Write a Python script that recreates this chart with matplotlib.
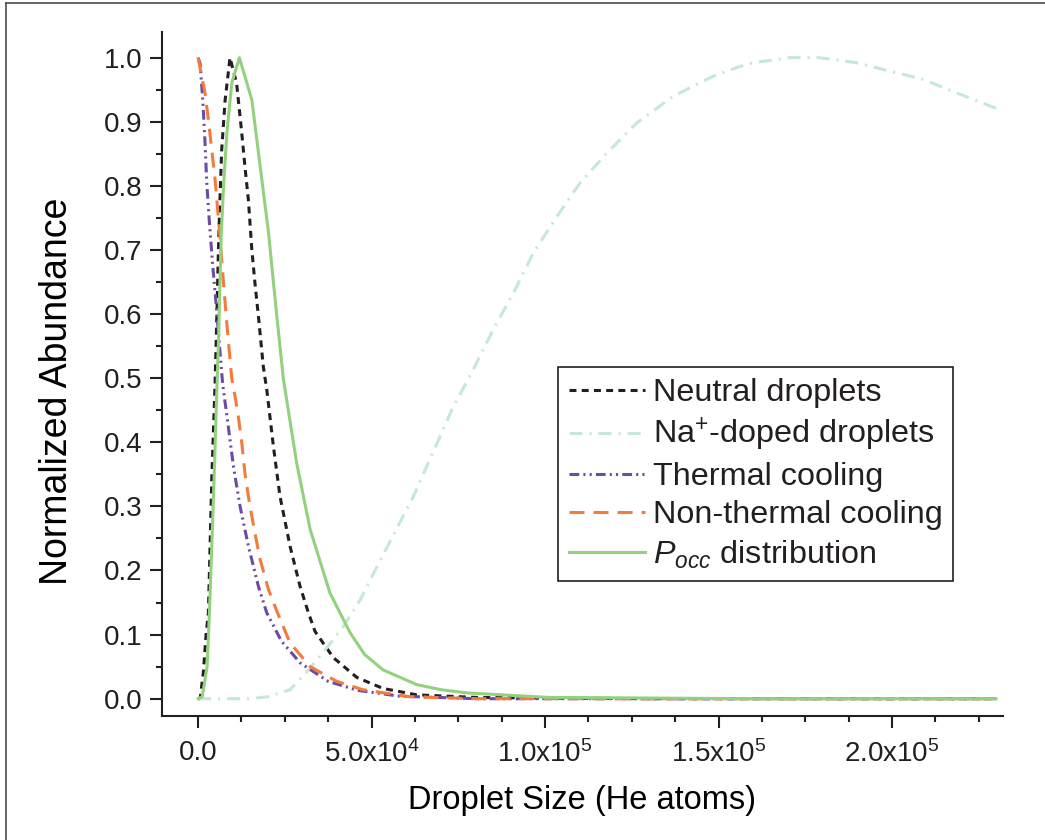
import matplotlib
matplotlib.use('Agg')
import matplotlib.pyplot as plt
from matplotlib.lines import Line2D
from matplotlib.ticker import MultipleLocator, FixedLocator, FixedFormatter

# values (droplet size in He atoms, normalized abundance)
neutral_x = [0, 600, 1500, 2300, 2970, 3940, 4900, 5400, 5860, 6300, 6800, 7800, 9200,
             11100, 12600, 13500, 14500, 15500, 16400, 17400, 18800, 19800, 21700, 23600,
             26500, 29400, 31800, 33700, 39000, 45800, 53300, 63000, 80000, 100000, 130000, 230000]
neutral_y = [0, 0.0, 0.04, 0.1, 0.134, 0.342, 0.492, 0.596, 0.70, 0.778, 0.856, 0.934, 1.0,
             0.96, 0.882, 0.83, 0.778, 0.70, 0.648, 0.596, 0.518, 0.482, 0.394, 0.316,
             0.238, 0.175, 0.134, 0.105, 0.064, 0.033, 0.016, 0.006, 0.002, 0.001, 0.0, 0.0]

na_x = [0, 15000, 20000, 26500, 31400, 36000, 41800, 46700, 51000, 62000, 69000, 73500, 79000,
        85100, 90900, 96600, 103400, 110000, 117800, 126400, 137000, 148500, 156000, 160000,
        170600, 179000, 189800, 199400, 209000, 218600, 230000]
na_y = [0, 0.0, 0.003, 0.014, 0.042, 0.072, 0.112, 0.154, 0.2, 0.315, 0.40, 0.455, 0.51,
        0.576, 0.633, 0.695, 0.752, 0.804, 0.851, 0.898, 0.94, 0.971, 0.986, 0.992,
        1.0, 1.0, 0.992, 0.979, 0.966, 0.945, 0.921]

thermal_x = [0, 600, 1350, 2000, 2500, 3270, 4200, 5200, 7100, 8700, 10200, 12100, 14500,
             17400, 19800, 24000, 29400, 37500, 46000, 58000, 80000, 230000]
thermal_y = [1.0, 0.99, 0.934, 0.867, 0.805, 0.742, 0.677, 0.615, 0.49, 0.425, 0.362, 0.30,
             0.238, 0.175, 0.134, 0.09, 0.056, 0.027, 0.013, 0.004, 0.0, 0.0]

nonthermal_x = [0, 2000, 2970, 3940, 4900, 5560, 6300, 7100, 8270, 9700, 10700, 11600, 12600,
                13500, 14800, 16400, 17900, 20300, 22900, 26500, 32300, 40000, 47500, 61000,
                80000, 230000]
nonthermal_y = [1.0, 0.945, 0.903, 0.856, 0.81, 0.768, 0.721, 0.664, 0.586, 0.50, 0.47, 0.44,
                0.399, 0.352, 0.305, 0.258, 0.217, 0.17, 0.134, 0.087, 0.05, 0.027, 0.014,
                0.003, 0.0, 0.0]

pocc_x = [0, 1200, 2600, 3270, 3940, 4600, 5380, 5900, 6300, 6700, 7400, 8300, 9700, 11900,
          15500, 17900, 20300, 22700, 24600, 28400, 32300, 38000, 43800, 48000, 53300, 63000,
          70000, 77500, 101000, 130000, 160000, 230000]
pocc_y = [0, 0.003, 0.05, 0.134, 0.238, 0.342, 0.477, 0.56, 0.648, 0.727, 0.805, 0.882, 0.96,
          1.0, 0.934, 0.83, 0.727, 0.596, 0.498, 0.368, 0.264, 0.165, 0.103, 0.069, 0.045,
          0.022, 0.014, 0.009, 0.002, 0.001, 0.0, 0.0]

labels = ['Neutral droplets', 'Na$^{+}$-doped droplets', 'Thermal cooling',
          'Non-thermal cooling', '$P_{occ}$ distribution']
xticks = [0, 5e4, 1e5, 1.5e5, 2e5]
xticklabels = ['0.0', '5.0x10$^{4}$', '1.0x10$^{5}$', '1.5x10$^{5}$', '2.0x10$^{5}$']

ink = '#231f20'
plt.rcParams['font.family'] = ['Liberation Sans', 'DejaVu Sans']
plt.rcParams['mathtext.fontset'] = 'custom'
plt.rcParams['mathtext.rm'] = 'Liberation Sans'
plt.rcParams['mathtext.it'] = 'Liberation Sans:italic'
plt.rcParams['lines.scale_dashes'] = False
plt.rcParams['text.color'] = ink
plt.rcParams['xtick.color'] = ink
plt.rcParams['ytick.color'] = ink

f = plt.figure(figsize=(10.45, 8.4), dpi=100)
ax = f.add_axes([162/1045, 1 - 716/840, (1003-162)/1045, (716-32)/840])

ax.plot(neutral_x, neutral_y, color=ink, lw=2.2, dashes=(5, 3.8), label=labels[0])
ax.plot(na_x, na_y, color='#c6e8d6', lw=2.2, dashes=(9.4, 5, 1.5, 5), label=labels[1])
ax.plot(thermal_x, thermal_y, color='#6a4ca6', lw=2.2,
        dashes=(7, 3, 1.5, 3, 1.5, 3), label=labels[2])
ax.plot(nonthermal_x, nonthermal_y, color='#f47b3c', lw=2.2, dashes=(10.8, 6.5), label=labels[3])
ax.plot(pocc_x, pocc_y, color='#92d27f', lw=2.2, label=labels[4])

ax.set_xlim(-1.04e4, 2.32e5)
ax.set_ylim(-0.027, 1.04)

ax.xaxis.set_major_locator(FixedLocator(xticks))
ax.xaxis.set_major_formatter(FixedFormatter(xticklabels))
ax.xaxis.set_minor_locator(MultipleLocator(12500))
ax.yaxis.set_major_locator(MultipleLocator(0.1))
ax.yaxis.set_minor_locator(MultipleLocator(0.05))
ax.yaxis.set_major_formatter(plt.FormatStrFormatter('%.1f'))

for s in ['top', 'right']:
    ax.spines[s].set_visible(False)
for s in ['left', 'bottom']:
    ax.spines[s].set_linewidth(1.5)
    ax.spines[s].set_color(ink)

ax.tick_params(which='major', direction='out', length=8.6, width=1.5, labelsize=20, pad=5.5)
ax.tick_params(axis='x', which='major', pad=9)
ax.tick_params(which='minor', direction='out', length=4.3, width=1.5)

ax.set_xlabel('Droplet Size (He atoms)', fontsize=23.5, labelpad=12)
ax.set_ylabel('Normalized Abundance', fontsize=27)
ax.yaxis.set_label_coords(-0.104, 0.475)

leg = ax.legend(loc='upper left', bbox_to_anchor=(0.471, 0.510), borderaxespad=0,
                fontsize=23.3, handlelength=2.35, handletextpad=0.25, labelspacing=0.25,
                borderpad=0.33, fancybox=False, framealpha=1)
leg.get_frame().set_edgecolor(ink)
leg.get_frame().set_linewidth(1.2)

# outer frame (left and top edges visible)
f.add_artist(Line2D([5.5/1045, 5.5/1045], [0, 1 - 2.5/840], transform=f.transFigure,
                    color='#4d4d4d', lw=1.2))
f.add_artist(Line2D([5.5/1045, 1], [1 - 2.5/840, 1 - 2.5/840], transform=f.transFigure,
                    color='#4d4d4d', lw=1.2))

f.savefig('out.png', dpi=100)
